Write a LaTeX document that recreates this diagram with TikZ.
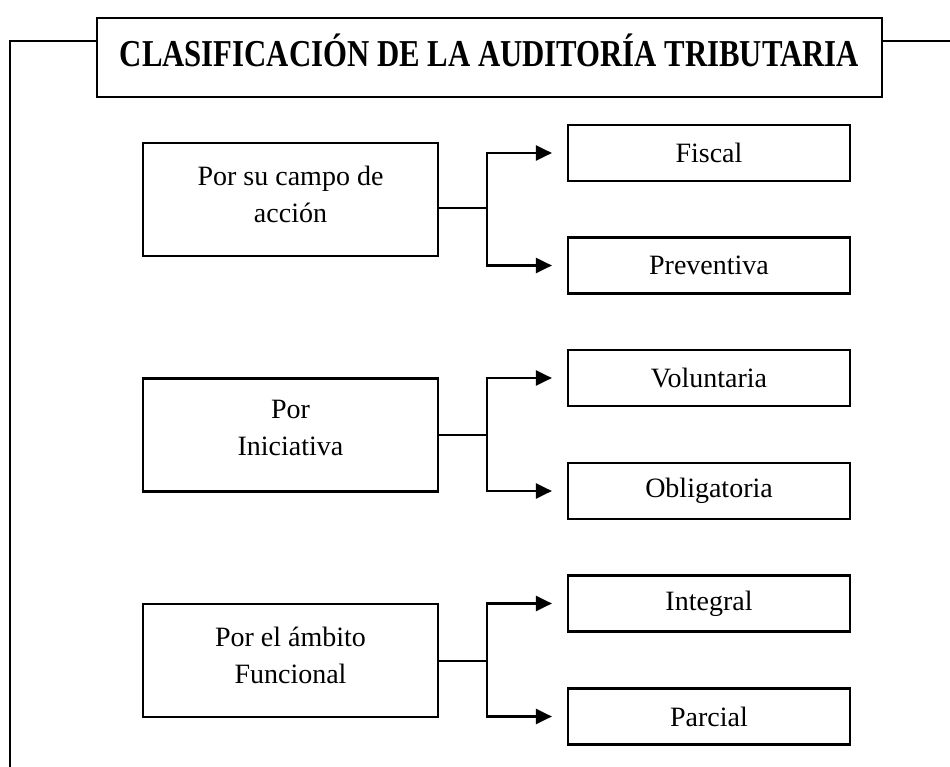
\documentclass[tikz,border=0pt]{standalone}
\usepackage{fontspec}
\setmainfont{Liberation Serif}
\usetikzlibrary{arrows.meta}
\begin{document}
\begin{tikzpicture}[x=1pt,y=-1pt,
  line width=2.2pt,
  titlebox/.style={draw,line width=2.6pt,minimum width=785pt,minimum height=79pt,inner sep=0pt},
  leftbox/.style={draw,minimum width=295pt,minimum height=113pt,align=center,inner sep=0pt,
     font=\fontsize{28}{37}\selectfont},
  rightbox/.style={draw,minimum width=282pt,minimum height=56pt,inner sep=0pt,
     font=\fontsize{28}{34}\selectfont},
  lbl/.style={inner sep=0pt,align=center,font=\fontsize{28}{37}\selectfont},
  arr/.style={-{Triangle[length=16pt,width=15pt]},shorten >=15pt}
]
\useasboundingbox (0,0) rectangle (950,767);
% title
\node[titlebox] (title) at (489.5,57.5) {};
\node[inner sep=0pt] (titletext) at (489.5,50) {\scalebox{0.81}[1]{\fontsize{38}{44}\selectfont\bfseries CLASIFICACIÓN DE LA AUDITORÍA TRIBUTARIA}};
\coordinate (tl) at (10,41);
\coordinate (bl) at (10,767);
\coordinate (tr) at (950,41);
\draw (title.west |- tl) -- (tl) -- (bl);
\draw (title.east |- tr) -- (tr);

% left boxes
\node[leftbox] (l1) at (290.5,199.5) {};
\node[lbl] (t1) at (290.5,194) {Por su campo de\\acción};
\node[leftbox] (l2) at (290.5,435) {};
\node[lbl] (t2) at (290.5,428) {Por\\Iniciativa};
\node[leftbox] (l3) at (290.5,660.5) {};
\node[lbl] (t3) at (290.5,655) {Por el ámbito\\Funcional};

% right boxes
\node[rightbox] (r1) at (709,153) {Fiscal};
\node[rightbox] (r2) at (709,265.5) {Preventiva};
\node[rightbox] (r3) at (709,378) {Voluntaria};
\node[rightbox] (r4) at (709,491) {Obligatoria};
\node[rightbox] (r5) at (709,603.5) {Integral};
\node[rightbox] (r6) at (709,716.5) {Parcial};

% connectors
\coordinate (j1) at (487,208);
\coordinate (j2) at (487,435);
\coordinate (j3) at (487,661);
\draw (l1.east |- j1) -- (j1);
\draw[arr] (j1) |- (r1.west);
\draw[arr] (j1) |- (r2.west);
\draw (l2.east |- j2) -- (j2);
\draw[arr] (j2) |- (r3.west);
\draw[arr] (j2) |- (r4.west);
\draw (l3.east |- j3) -- (j3);
\draw[arr] (j3) |- (r5.west);
\draw[arr] (j3) |- (r6.west);
\end{tikzpicture}
\end{document}
